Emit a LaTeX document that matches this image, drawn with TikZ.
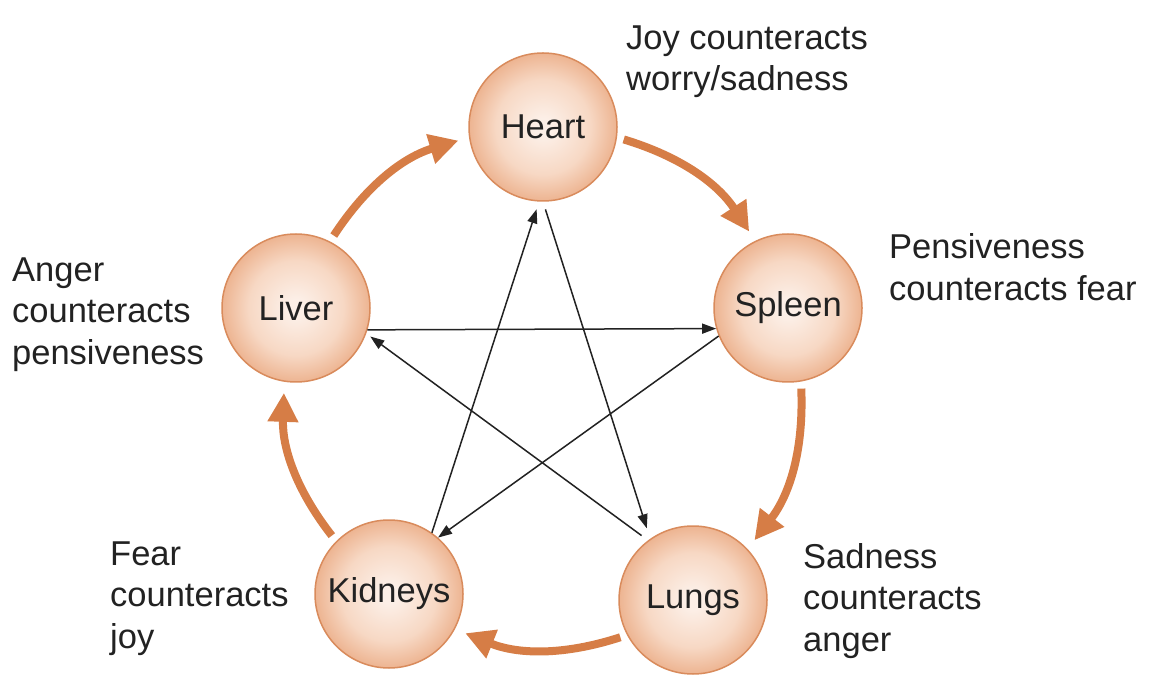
\documentclass[tikz,border=0pt]{standalone}
\usepackage{fontspec}
\setmainfont{Liberation Sans}
\usetikzlibrary{arrows.meta}
\definecolor{orbin}{HTML}{FCEFE7}
\definecolor{orbmid}{HTML}{F7D8C4}
\definecolor{orbout}{HTML}{EDB491}
\definecolor{orbline}{HTML}{D98B5C}
\definecolor{flowc}{HTML}{D67D46}
\definecolor{txt}{HTML}{222222}
\pgfdeclareradialshading{orb}{\pgfpoint{0bp}{0bp}}{color(0bp)=(orbin); color(3bp)=(orbin); color(16bp)=(orbmid); color(25bp)=(orbout); color(50bp)=(orbout)}
\begin{document}
\begin{tikzpicture}[x=1pt,y=1pt,
  organ/.style={circle, minimum size=148pt, inner sep=0pt, shading=orb, draw=orbline, line width=1.5pt, text=txt, font=\fontsize{34.5}{41}\selectfont},
  note/.style={anchor=north west, align=left, inner sep=0pt, text=txt, font=\fontsize{34.5}{41.5}\selectfont},
  flow/.style={draw=flowc, line width=8pt, -{Triangle[length=29pt,width=29pt]}, shorten <=7pt, shorten >=11pt, bend left=20},
  ctrl/.style={draw=txt, line width=1.5pt, -{Triangle[length=14pt,width=10pt]}}]
\useasboundingbox (0,0) rectangle (1161,691);
\fill[white] (0,0) rectangle (1161,691);
\node[organ] (heart) at (543,564) {Heart};
\node[organ] (spleen) at (788,383) {Spleen};
\node[organ] (lungs) at (693,91) {Lungs};
\node[organ] (kidneys) at (389,97) {Kidneys};
\node[organ] (liver) at (296,383) {Liver};
\draw[flow] (heart.-8.2) to (spleen.116.2);
\draw[flow] (spleen.-80.2) to (lungs.43.7);
\draw[flow] (lungs.-152.7) to (kidneys.-28.4);
\draw[flow] (kidneys.135.2) to (liver.-99.8);
\draw[flow] (liver.63.8) to (heart.188);
\draw[ctrl] (liver.-17.5) -- (spleen.196);
\draw[ctrl] (spleen.202) -- (kidneys.49);
\draw[ctrl, shorten >=8pt] (kidneys.55) -- (heart.-93.4);
\draw[ctrl, shorten <=8pt, shorten >=11pt] (heart.-90) -- (lungs.125);
\draw[ctrl, shorten <=8pt, shorten >=5pt] (lungs.127) -- (liver.-20);
\node[note] (joy) at (626,665.5) {Joy counteracts\\worry/sadness};
\node[note] (pens) at (889,457.5) {Pensiveness\\counteracts fear};
\node[note] (anger) at (12,433.5) {Anger\\counteracts\\pensiveness};
\node[note] (fear) at (110,149.5) {Fear\\counteracts\\joy};
\node[note] (sad) at (803,148) {Sadness\\counteracts\\anger};
\end{tikzpicture}
\end{document}
